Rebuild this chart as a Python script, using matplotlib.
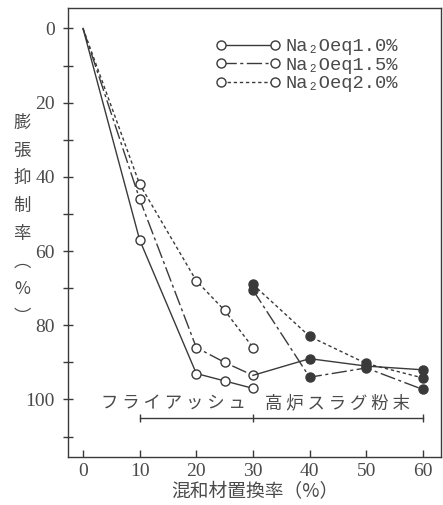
import matplotlib
matplotlib.use("Agg")
import matplotlib.pyplot as plt
import numpy as np

# ---- data ----
fa_x = [0, 10, 20, 25, 30]
fa_10 = [0, 57, 93, 95, 97]
fa_15 = [0, 46, 86, 90, 93.5]
fa_20 = [0, 42, 68, 76, 86]

sl_x = [30, 40, 50, 60]
sl_10 = [93.5, 89, 91, 92]
sl_15 = [70.5, 94, 91.5, 97.3]
sl_20 = [69, 83, 90.3, 94.2]

legend_labels = ["Na₂Oeq1.0%", "Na₂Oeq1.5%", "Na₂Oeq2.0%"]
groups = ["フ ラ イ ア ッ シ ュ", "高 炉 ス ラ グ 粉 末"]
group_ranges = [(10, 30), (30, 60)]
group_label_x = [16, 45]

x_ticks = [0, 10, 20, 30, 40, 50, 60]
y_ticks = [0, 20, 40, 60, 80, 100]
y_minor = [10, 30, 50, 70, 90, 110]

xlabel = "混和材置換率（%）"
ylabel = "膨\n張\n抑\n制\n率\n︵\n%\n︶"

# ---- style ----
plt.rcParams['font.family'] = ['Liberation Serif', 'Noto Sans CJK JP', 'DejaVu Sans']
plt.rcParams['lines.scale_dashes'] = False

ink = '#3a3a3a'
txt = '#4a4a4a'
styles = ['-', (0, (11, 2.5, 2.2, 2.5)), (0, (2.4, 2.0))]
lw = 1.0
ms = 6.5

fig = plt.figure(figsize=(4.43, 5.05), dpi=100)
ax = fig.add_axes([68/443, 1-457/505, (441-68)/443, (457-8)/505])

for ys, ls in zip([fa_10, fa_15, fa_20], styles):
    ax.plot(fa_x, ys, linestyle=ls, color=ink, lw=lw, marker='o', ms=ms,
            mfc='white', mec=ink, mew=1.0, markevery=list(range(1, len(fa_x))))

for i, (ys, ls) in enumerate(zip([sl_10, sl_15, sl_20], styles)):
    me = list(range(1, len(sl_x))) if i == 0 else list(range(len(sl_x)))
    ax.plot(sl_x, ys, linestyle=ls, color=ink, lw=lw, marker='o', ms=ms,
            mfc=ink, mec=ink, markevery=me, zorder=3)

# group brackets
ax.plot([group_ranges[0][0], group_ranges[-1][1]], [105, 105], color=ink, lw=1.0)
ax.vlines([group_ranges[0][0], group_ranges[0][1], group_ranges[1][1]], 104, 106, color=ink, lw=1.0)
for name, cx in zip(groups, group_label_x):
    ax.text(cx, 101, name, ha='center', va='center', fontsize=12.5,
            family=['Noto Sans CJK JP'], color=txt)

# legend
handles = []
for ls in styles:
    h, = ax.plot([], [], linestyle=ls, color=ink, lw=lw, marker='o', ms=ms,
                 mfc='white', mec=ink, mew=1.0)
    handles.append(h)
leg = ax.legend(handles, legend_labels, loc='upper left', bbox_to_anchor=(0.375, 0.95),
                frameon=False, numpoints=2, handlelength=3.5, handletextpad=0.25,
                labelspacing=0.08, borderaxespad=0,
                prop={'family': ['Liberation Mono', 'DejaVu Sans Mono'], 'size': 13.5})
for t in leg.get_texts():
    t.set_color(txt)

ax.set_xlim(-2.65, 63.2)
ax.set_ylim(115.5, -5.5)
ax.set_xticks(x_ticks)
ax.set_yticks(y_ticks)
ax.set_yticks(y_minor, minor=True)
ax.tick_params(axis='x', direction='in', length=5, width=1, color=ink, labelsize=14,
               labelcolor=txt, pad=4)
ax.tick_params(axis='y', which='both', direction='inout', length=7, width=1, color=ink,
               labelsize=14, labelcolor=txt, pad=6)
for s in ax.spines.values():
    s.set_color(ink)
    s.set_linewidth(1.0)

ax.set_xlabel(xlabel, fontsize=13.5, family=['Noto Sans CJK JP'], color=txt, labelpad=1)
fig.text(22/443, 1-220/505, ylabel, ha='center', va='center', fontsize=12.5,
         family=['Noto Sans CJK JP'], color=txt, linespacing=1.7)

fig.savefig("out.png", dpi=100, facecolor='white')
